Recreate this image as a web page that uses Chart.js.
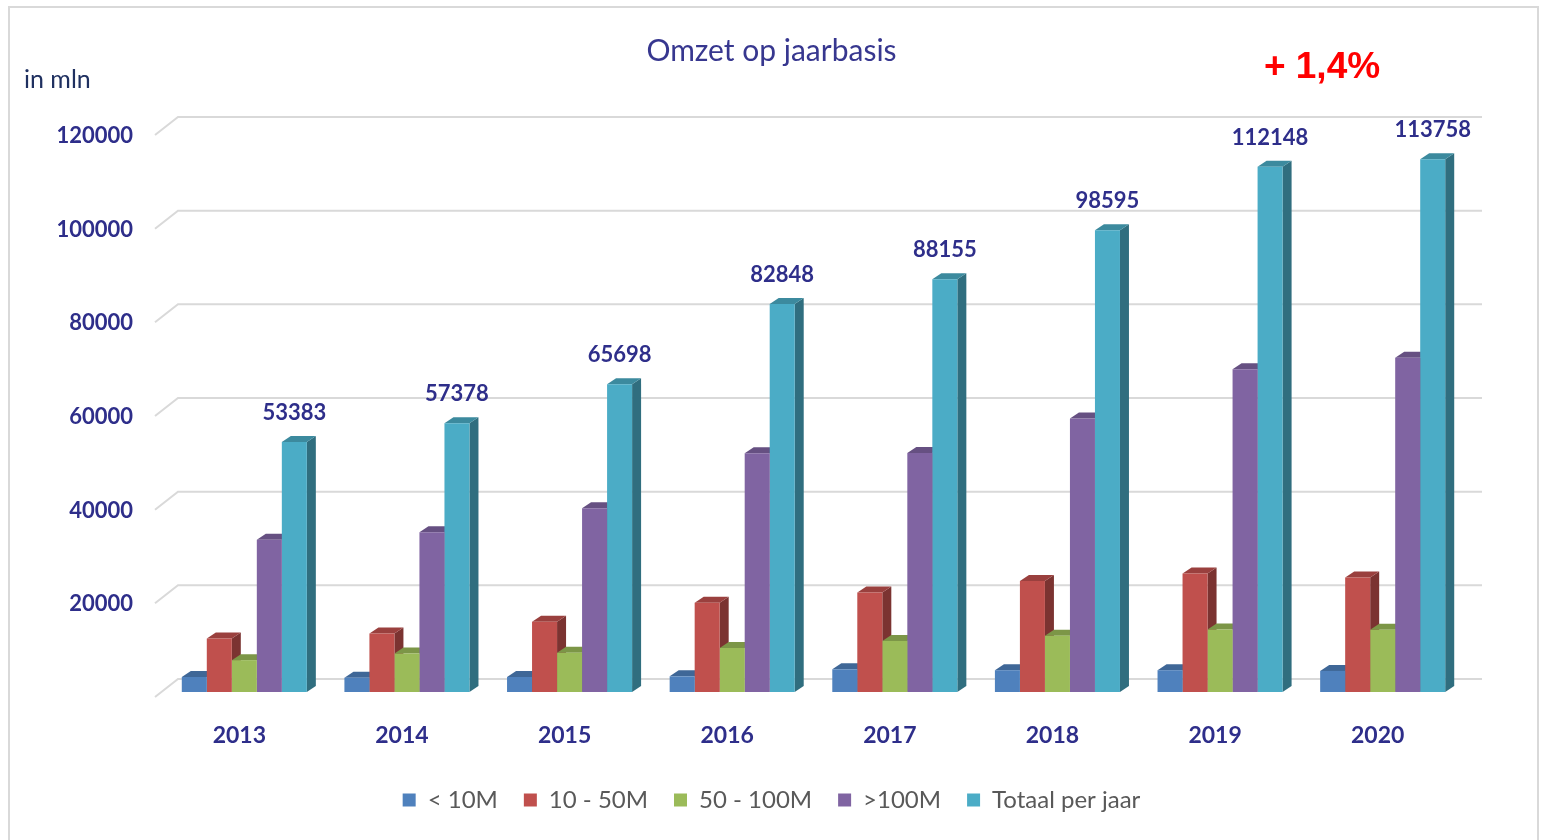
<!DOCTYPE html>
<html>
<head>
<meta charset="utf-8">
<title>Omzet op jaarbasis</title>
<script src="https://cdn.jsdelivr.net/npm/chart.js@4.4.1/dist/chart.umd.min.js"></script>
<style>
  html, body { margin: 0; padding: 0; background: #fff; }
  #wrap { position: relative; width: 1543px; height: 840px; }
</style>
</head>
<body>
<div id="wrap"><canvas id="omzet"></canvas></div>
<script>
// waarden in mln
const jaren = ['2013', '2014', '2015', '2016', '2017', '2018', '2019', '2020']
const onder10M = [3200, 3050, 3200, 3350, 4850, 4650, 4650, 4500]
const van10tot50M = [11400, 12500, 15000, 19050, 21250, 23700, 25300, 24450]
const van50tot100M = [6800, 8200, 8400, 9400, 10900, 12000, 13350, 13300]
const boven100M = [32500, 34100, 39250, 51000, 51050, 58400, 68900, 71350]
const totaalPerJaar = [53383, 57378, 65698, 82848, 88155, 98595, 112148, 113758]

const kleuren = ['#4f81bd', '#c0504d', '#9bbb59', '#8064a2', '#4bacc6']
const blauw = '#2e2e8a'
const diepte = { dx: 9, dy: -6 }

function donker(hex, f) {
    const n = parseInt(hex.slice(1), 16)
    const r = Math.round(((n >> 16) & 255) * f)
    const g = Math.round(((n >> 8) & 255) * f)
    const b = Math.round((n & 255) * f)
    return `rgb(${r},${g},${b})`
}

// kader, rasterlijnen en de 3D zij- en bovenvlakken
const blokken = {
    id: 'blokken',
    beforeDraw(chart) {
        const ctx = chart.ctx
        ctx.save()
        ctx.strokeStyle = '#d9d9d9'
        ctx.lineWidth = 2
        ctx.strokeRect(9, 7, 1529, 850)
        ctx.restore()
    },
    beforeDatasetsDraw(chart) {
        const ctx = chart.ctx
        const area = chart.chartArea
        const y = chart.scales.y
        ctx.save()
        ctx.strokeStyle = '#d9d9d9'
        ctx.lineWidth = 2
        y.ticks.forEach(t => {
            const p = y.getPixelForValue(t.value)
            ctx.beginPath()
            ctx.moveTo(area.left - 8, p + 5)
            ctx.lineTo(area.left + 15, p - 13)
            ctx.lineTo(area.right + 18, p - 13)
            ctx.stroke()
        })
        const { dx, dy } = diepte
        chart.data.labels.forEach((_, i) => {
            chart.data.datasets.forEach((ds, d) => {
                const bar = chart.getDatasetMeta(d).data[i]
                const { x, y: top, base, width } = bar.getProps(['x', 'y', 'base', 'width'], true)
                const L = x - width / 2, R = x + width / 2
                ctx.fillStyle = donker(ds.backgroundColor, 0.64)
                ctx.beginPath()
                ctx.moveTo(R, top)
                ctx.lineTo(R + dx, top + dy)
                ctx.lineTo(R + dx, base + dy)
                ctx.lineTo(R, base)
                ctx.closePath()
                ctx.fill()
                ctx.fillStyle = donker(ds.backgroundColor, 0.8)
                ctx.beginPath()
                ctx.moveTo(L, top)
                ctx.lineTo(L + dx, top + dy)
                ctx.lineTo(R + dx, top + dy)
                ctx.lineTo(R, top)
                ctx.closePath()
                ctx.fill()
            })
        })
        ctx.restore()
    },
    afterDatasetsDraw(chart) {
        const ctx = chart.ctx
        const meta = chart.getDatasetMeta(4)
        ctx.save()
        ctx.fillStyle = blauw
        ctx.font = 'bold 22px Lato'
        ctx.textAlign = 'center'
        ctx.textBaseline = 'middle'
        meta.data.forEach((bar, i) => {
            ctx.fillText(String(totaalPerJaar[i]), bar.x, bar.y - 29)
        })
        ctx.restore()
    },
    afterDraw(chart) {
        const ctx = chart.ctx
        ctx.save()
        ctx.textBaseline = 'middle'
        ctx.fillStyle = '#1f3060'
        ctx.font = '25px Lato'
        ctx.textAlign = 'left'
        ctx.fillText('in mln', 24, 80)
        ctx.fillStyle = '#ff0000'
        ctx.font = 'bold 37px "Liberation Sans"'
        ctx.textAlign = 'center'
        ctx.fillText('+ 1,4%', 1322, 68)
        ctx.restore()
    }
}

const reeks = (label, data, kleur) => ({
    label,
    data,
    backgroundColor: kleur,
    borderWidth: 0,
    categoryPercentage: 0.769,
    barPercentage: 1
})

new Chart(document.getElementById('omzet'), {
    type: 'bar',
    data: {
        labels: jaren,
        datasets: [
            reeks('< 10M', onder10M, kleuren[0]),
            reeks('10 - 50M', van10tot50M, kleuren[1]),
            reeks('50 - 100M', van50tot100M, kleuren[2]),
            reeks('>100M', boven100M, kleuren[3]),
            reeks('Totaal per jaar', totaalPerJaar, kleuren[4])
        ]
    },
    options: {
        responsive: true,
        maintainAspectRatio: false,
        animation: false,
        layout: { padding: { top: 0, left: 0, right: 0, bottom: 18 } },
        scales: {
            x: {
                border: { display: false },
                grid: { display: false, drawTicks: false },
                ticks: {
                    padding: 30,
                    labelOffset: -5,
                    color: blauw,
                    font: { family: 'Lato', size: 23, weight: 'bold' }
                },
                afterFit(scale) { scale.height = 70 }
            },
            y: {
                min: 0,
                max: 120000,
                border: { display: false },
                grid: { display: false, drawTicks: false },
                ticks: {
                    stepSize: 20000,
                    padding: 30,
                    labelOffset: 6,
                    color: blauw,
                    font: { family: 'Lato', size: 22, weight: 'bold' },
                    callback: v => v === 0 ? '' : String(v)
                },
                afterFit(scale) { scale.width = 163 }
            },
            rechts: {
                position: 'right',
                border: { display: false },
                grid: { display: false, drawTicks: false },
                ticks: { display: false },
                afterFit(scale) { scale.width = 79 }
            }
        },
        plugins: {
            title: {
                display: true,
                text: 'Omzet op jaarbasis',
                color: '#37378f',
                font: { family: 'Lato', size: 30, weight: 'normal' },
                padding: { top: 33, bottom: 61 }
            },
            legend: {
                position: 'bottom',
                labels: {
                    boxWidth: 13,
                    boxHeight: 13,
                    padding: 26,
                    color: '#595959',
                    font: { family: 'Lato', size: 24 }
                }
            },
            tooltip: { enabled: false }
        }
    },
    plugins: [blokken]
})
</script>
</body>
</html>
